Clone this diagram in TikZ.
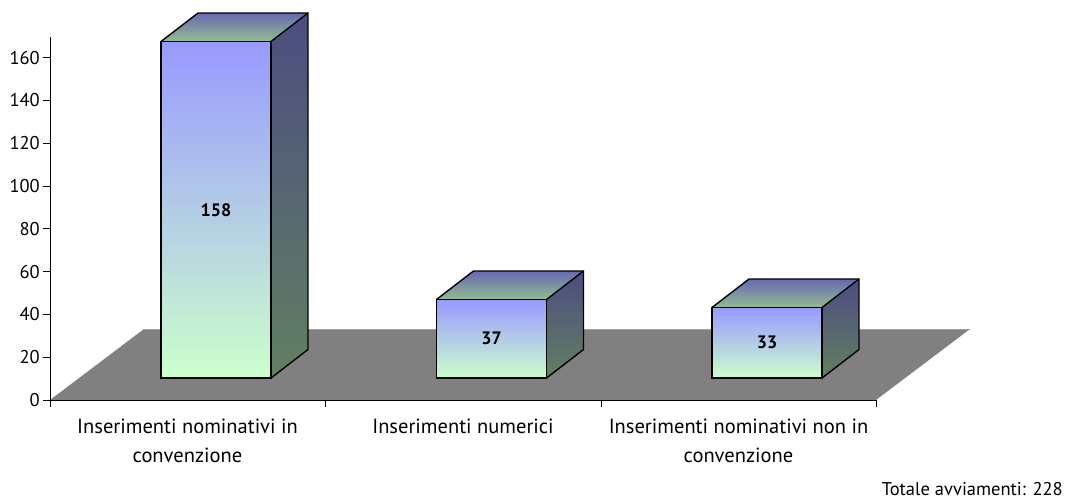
\documentclass[tikz,border=0pt]{standalone}
\usepackage{fontspec}
\setmainfont{PT Sans}
\definecolor{frontTop}{HTML}{9999FF}
\definecolor{frontBot}{HTML}{CCFFCC}
\definecolor{sideTop}{HTML}{4C4C80}
\definecolor{sideBot}{HTML}{628062}
\definecolor{capBack}{HTML}{6868B2}
\definecolor{capMid}{HTML}{8CB48E}
\definecolor{capFront}{HTML}{92BE92}
\definecolor{floorgray}{HTML}{808080}
\newcommand\mybar[4]{% #1 left x, #2 top y, #3 label, #4 name
  \shade[top color=sideTop, bottom color=sideBot] (#1+110,#2) -- (#1+147,#2-28.5) -- (#1+147,349.5) -- (#1+110,378) -- cycle;
  \shade[top color=capBack, middle color=capMid, bottom color=capFront] (#1,#2) -- (#1+37,#2-28.5) -- (#1+147,#2-28.5) -- (#1+110,#2) -- cycle;
  \shade[top color=frontTop, bottom color=frontBot] (#1,#2) rectangle (#1+110,378);
  \draw[barline] (#1,#2) rectangle (#1+110,378);
  \draw[barline] (#1,#2) -- (#1+37,#2-28.5) -- (#1+147,#2-28.5) -- (#1+147,349.5) -- (#1+110,378);
  \draw[barline] (#1+110,#2) -- (#1+147,#2-28.5);
  \node[vallabel] (#4) at (#1+55,{(#2+378)/2}) {#3};
}
\begin{document}
\begin{tikzpicture}[x=1pt,y=-1pt,
  barline/.style={line width=1.4pt, line join=miter},
  axisline/.style={line width=0.9pt},
  ticklabel/.style={anchor=east, inner sep=0pt, font=\fontsize{18.5}{20}\selectfont},
  catlabel/.style={anchor=base, inner sep=0pt, font=\fontsize{20.5}{22}\selectfont},
  totlabel/.style={anchor=base east, inner sep=0pt, font=\fontsize{18.5}{20}\selectfont},
  vallabel/.style={inner sep=0pt, font=\fontsize{18}{20}\selectfont\bfseries}]
\useasboundingbox (0,0) rectangle (1066,499);
% floor
\fill[floorgray] (50,400) -- (876,400) -- (970,329) -- (144,329) -- cycle;
\draw[line width=0.6pt, color=gray!75] (144,329) -- (970,329);
% axes
\draw[axisline] (50,37) -- (50,407);
\draw[axisline] (43,400) -- (876,400);
\foreach \v in {0,20,...,160} {
  \draw[axisline] (43,{400-2.14*\v}) -- (50,{400-2.14*\v});
  \node[ticklabel] (t\v) at (40,{400-2.14*\v}) {\v};
}
\foreach \x in {325,601,876} { \draw[axisline] (\x,400) -- (\x,407); }
% bars
\mybar{161}{41.5}{158}{v1}
\mybar{436.5}{299.5}{37}{v2}
\mybar{712}{307.5}{33}{v3}
% category labels
\node[catlabel] (c1a) at (187.5,433) {Inserimenti nominativi in};
\node[catlabel] (c1b) at (187.5,462) {convenzione};
\node[catlabel] (c2a) at (463,433) {Inserimenti numerici};
\node[catlabel] (c3a) at (738.5,433) {Inserimenti nominativi non in};
\node[catlabel] (c3b) at (738.5,462) {convenzione};
\node[totlabel] (tot) at (1063,495) {Totale avviamenti: 228};
\end{tikzpicture}
\end{document}
